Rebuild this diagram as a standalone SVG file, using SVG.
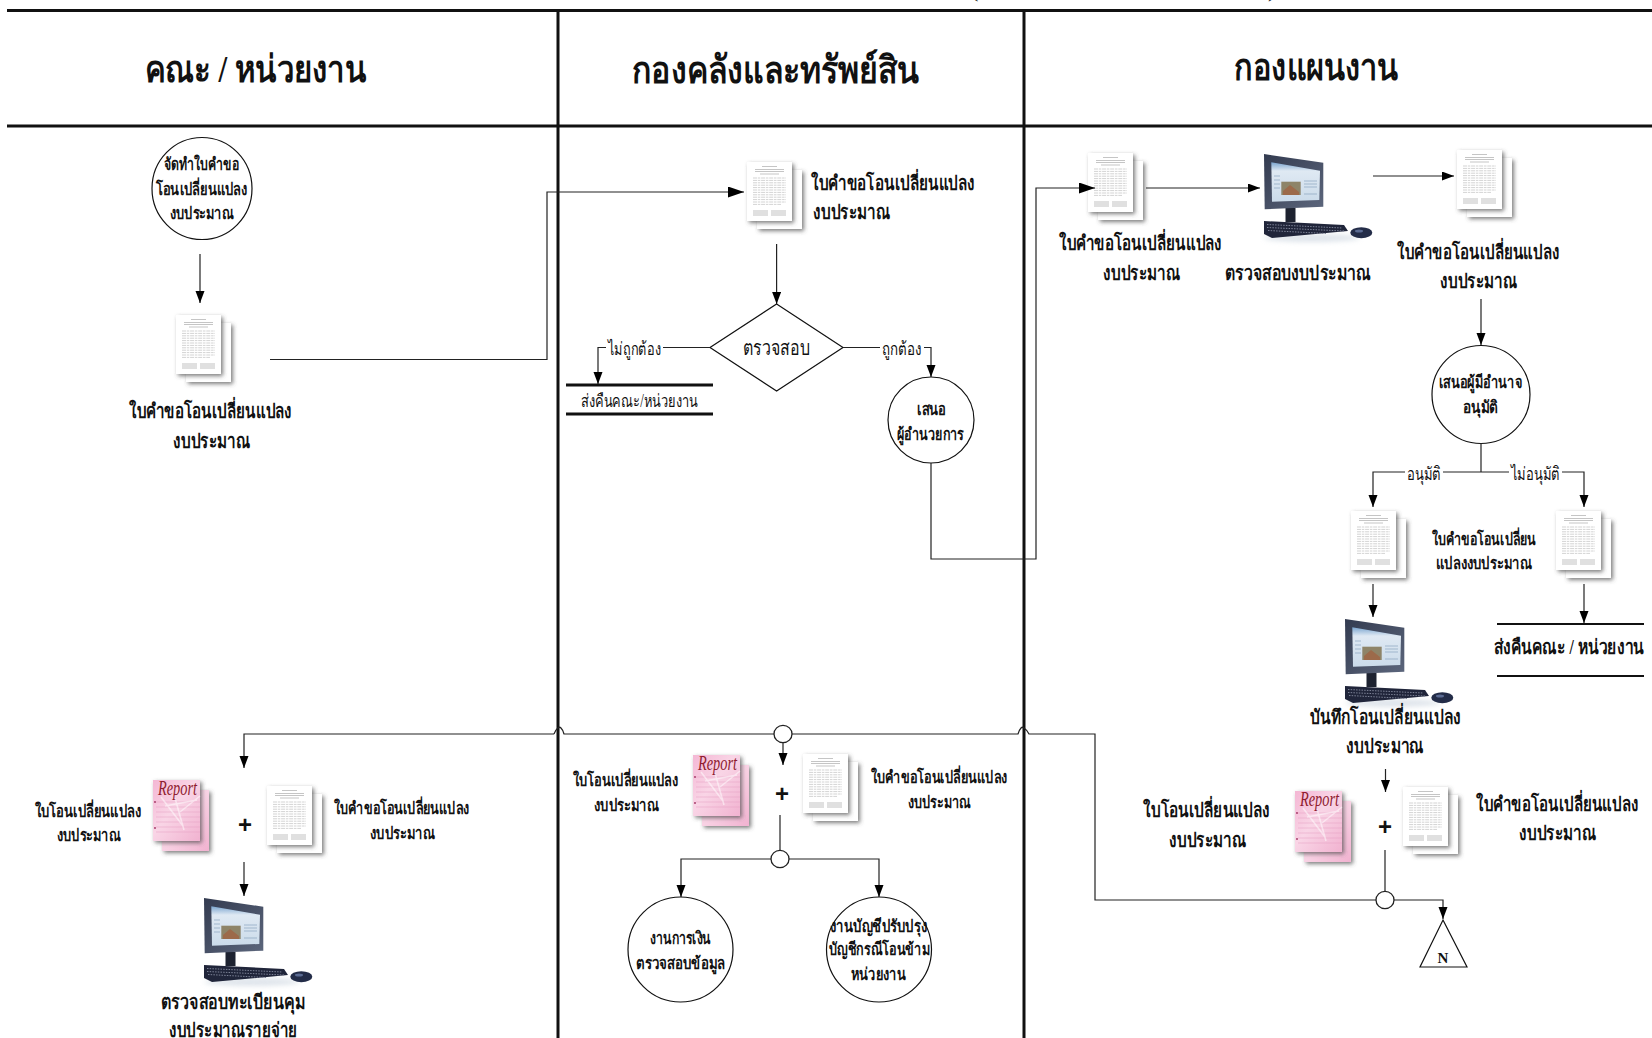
<svg xmlns="http://www.w3.org/2000/svg" xmlns:xlink="http://www.w3.org/1999/xlink" width="1652" height="1038" viewBox="0 0 1652 1038">
<style>
text{font-family:"Liberation Serif","Noto Sans","DejaVu Sans",serif;fill:#111;font-weight:700}
.t{font-size:38px}
.m{font-size:20px}
.s{font-size:17px}
.l{font-size:18px;font-weight:400}
.lane{stroke:#111;stroke-width:3;fill:none}
.bar{stroke:#111;stroke-width:3;fill:none}
.c{stroke:#222;stroke-width:1.2;fill:none}
.ca{marker-end:url(#big)}
.cs{marker-end:url(#small)}
.o{fill:#fff;stroke:#111;stroke-width:1.2}
.j{fill:#fff;stroke:#222;stroke-width:1.3}
.p{font-size:24px;font-family:"Liberation Sans",sans-serif}
.gap{fill:#fff;stroke:none}
</style>
<defs>
<marker id="big" markerUnits="userSpaceOnUse" markerWidth="18" markerHeight="14" refX="16" refY="5.500" orient="auto"><path d="M0 0L16 5.500L0 11Z" fill="#000"/></marker>
<marker id="small" markerUnits="userSpaceOnUse" markerWidth="14" markerHeight="10" refX="12" refY="4.500" orient="auto"><path d="M0 0L12 4.500L0 9Z" fill="#000"/></marker>
<filter id="sh" x="-25%" y="-20%" width="160%" height="150%"><feDropShadow dx="2" dy="2" stdDeviation="2" flood-color="#444" flood-opacity=".7"/></filter>
<filter id="soft2" x="-30%" y="-60%" width="160%" height="220%"><feGaussianBlur stdDeviation="2.5"/></filter>
<linearGradient id="pink" x1="0" y1="0" x2="1" y2="1"><stop offset="0" stop-color="#f4b7d4"/><stop offset=".45" stop-color="#f9d5e6"/><stop offset="1" stop-color="#f1b2d0"/></linearGradient>
<linearGradient id="scr" x1="0" y1="0" x2="0" y2="1"><stop offset="0" stop-color="#7ba5cf"/><stop offset=".22" stop-color="#dfe9f3"/><stop offset="1" stop-color="#cbdbea"/></linearGradient>
<linearGradient id="mon" x1="0" y1="0" x2="1" y2="1"><stop offset="0" stop-color="#333b50"/><stop offset="1" stop-color="#5c667c"/></linearGradient>
<g id="doc">
<rect x="10" y="8" width="45" height="59" fill="#fff" filter="url(#sh)"/>
<rect x="0" y="0" width="45" height="59" fill="#fff" filter="url(#sh)"/>
<g fill="none" stroke="#a6a6a6" stroke-width=".5">
<path d="M15 4.500H30M8 7.500H37M8 9.500H37M13 12H32" stroke="#8a8a8a"/>
<path d="M6 16H39M6 18.400H39M6 20.800H39M6 23.200H39M6 25.600H39M6 28H39M6 30.400H39M6 32.800H39M6 35.200H39M6 37.600H39M6 40H39M6 42.400H34" stroke-dasharray="4 .8 2.500 .8"/>
<path d="M6 49H21M24 49H39M6 51H21M24 51H39M6 53H21M24 53H39" stroke-width=".7"/>
</g>
</g>
<g id="report">
<rect x="9" y="10" width="47" height="61" fill="url(#pink)" filter="url(#sh)"/>
<rect x="0" y="0" width="47" height="61" fill="url(#pink)" filter="url(#sh)"/>
<path d="M3 22H47M3 27H47M3 32H47M3 37H47M3 42H47M3 47H47M3 52H47" stroke="#e79cc0" stroke-width=".5" fill="none"/>
<path d="M8 17L30 46M22 18L31 50M47 16L27 32M12 26L44 20" stroke="#fff" stroke-opacity=".5" stroke-width="1.6" fill="none"/>
<circle cx="2" cy="22" r=".9" fill="#a03060"/><circle cx="2" cy="48" r=".9" fill="#a03060"/>
<text x="5" y="15" font-size="20" textLength="39" lengthAdjust="spacingAndGlyphs" style="fill:#8f1c30;font-style:italic;font-weight:400">Report</text>
</g>
<g id="pc">
<ellipse cx="48" cy="84" rx="48" ry="4" fill="#c9d3de" opacity=".6" filter="url(#soft2)"/>
<rect x="21.500" y="54" width="10" height="14" fill="#1d2230"/>
<path d="M0 0L59.300 8.700V52.700L.7 55.300Z" fill="url(#mon)"/>
<path d="M7.300 8.300L56 16.700L55.300 46L8 47.700Z" fill="url(#scr)"/>
<rect x="17.300" y="27.700" width="19.400" height="13.300" fill="#8e8468"/>
<path d="M19 37L26 31L35 38V41H19Z" fill="#9c6a4a"/>
<path d="M40 27H53M40 30H53M40 33H53M40 40H53M10 22H16M10 26H16M10 30H16M10 34H16" stroke="#8aa3bf" stroke-width=".7"/>
<path d="M0 67L80 71L84 77L8 84L0 80Z" fill="#20253a"/>
<path d="M3 70.500L78 74M3 73.500L80 77M4 76.500L62 79.500" stroke="#7c8296" stroke-width="1" stroke-dasharray="1.500 1.200"/>
<ellipse cx="97.300" cy="78.700" rx="11" ry="5.500" fill="#232c48"/>
<ellipse cx="95" cy="77" rx="4" ry="1.500" fill="#5a6a92"/>
</g>
</defs>
<rect width="1652" height="1038" fill="#fff"/>

<g id="lanes">
<path class="lane" d="M7 10.500H1652M7 126H1652M558 10V1038M1024 10V1038"/>
<text x="971" y="-3" font-size="22" style="font-weight:400">(</text>
<text x="1268" y="-3" font-size="22" style="font-weight:400">)</text>
</g>

<g id="headers">
<text class="t" x="145" y="82" textLength="221" lengthAdjust="spacingAndGlyphs">คณะ / หน่วยงาน</text>
<text class="t" x="632" y="83" textLength="287" lengthAdjust="spacingAndGlyphs">กองคลังและทรัพย์สิน</text>
<text class="t" x="1234" y="80" textLength="164" lengthAdjust="spacingAndGlyphs">กองแผนงาน</text>
</g>

<g id="n-start"><ellipse class="o" cx="202" cy="188.500" rx="50" ry="51"/>
<text class="s" x="164" y="170" textLength="75" lengthAdjust="spacingAndGlyphs">จัดทำใบคำขอ</text>
<text class="s" x="156" y="195" textLength="91" lengthAdjust="spacingAndGlyphs">โอนเปลี่ยนแปลง</text>
<text class="s" x="170" y="219" textLength="64" lengthAdjust="spacingAndGlyphs">งบประมาณ</text></g>
<g id="n-doc-a"><use href="#doc" x="176" y="315"/>
<text class="m" x="129" y="418" textLength="163" lengthAdjust="spacingAndGlyphs">ใบคำขอโอนเปลี่ยนแปลง</text>
<text class="m" x="173" y="448" textLength="77" lengthAdjust="spacingAndGlyphs">งบประมาณ</text></g>
<g id="n-doc-b"><use href="#doc" x="747" y="162"/>
<text class="m" x="811" y="190" textLength="164" lengthAdjust="spacingAndGlyphs">ใบคำขอโอนเปลี่ยนแปลง</text>
<text class="m" x="813" y="219" textLength="77" lengthAdjust="spacingAndGlyphs">งบประมาณ</text></g>
<g id="n-check"><path class="o" d="M776.600 304L843 347.500L776.600 391L710 347.500Z"/>
<text class="m" x="743" y="355" textLength="67" lengthAdjust="spacingAndGlyphs" style="font-weight:400">ตรวจสอบ</text></g>
<g id="n-return1"><path class="bar" d="M566 385H713M566 414H713"/>
<text class="l" x="581" y="407" textLength="117" lengthAdjust="spacingAndGlyphs">ส่งคืนคณะ/หน่วยงาน</text></g>
<g id="n-director"><circle class="o" cx="931" cy="420" r="43"/>
<text class="s" x="917" y="415" textLength="29" lengthAdjust="spacingAndGlyphs">เสนอ</text>
<text class="s" x="897" y="440" textLength="67" lengthAdjust="spacingAndGlyphs">ผู้อำนวยการ</text></g>
<g id="n-doc-c"><use href="#doc" x="1088" y="153"/>
<text class="m" x="1059" y="250" textLength="163" lengthAdjust="spacingAndGlyphs">ใบคำขอโอนเปลี่ยนแปลง</text>
<text class="m" x="1103" y="280" textLength="77" lengthAdjust="spacingAndGlyphs">งบประมาณ</text></g>
<g id="n-pc-1"><use href="#pc" x="1264" y="154"/>
<text class="m" x="1225" y="280" textLength="146" lengthAdjust="spacingAndGlyphs">ตรวจสอบงบประมาณ</text></g>
<g id="n-doc-d"><use href="#doc" x="1457" y="150"/>
<text class="m" x="1397" y="259" textLength="162" lengthAdjust="spacingAndGlyphs">ใบคำขอโอนเปลี่ยนแปลง</text>
<text class="m" x="1440" y="288" textLength="77" lengthAdjust="spacingAndGlyphs">งบประมาณ</text></g>
<g id="n-approve"><ellipse class="o" cx="1481" cy="394.500" rx="49" ry="49"/>
<text class="s" x="1439" y="388" textLength="83" lengthAdjust="spacingAndGlyphs">เสนอผู้มีอำนาจ</text>
<text class="s" x="1463" y="413" textLength="35" lengthAdjust="spacingAndGlyphs">อนุมัติ</text></g>
<g id="n-doc-e"><use href="#doc" x="1351" y="511"/></g>
<g id="n-doc-f"><use href="#doc" x="1556" y="511"/>
<text class="s" x="1432" y="545" textLength="104" lengthAdjust="spacingAndGlyphs">ใบคำขอโอนเปลี่ยน</text>
<text class="s" x="1436" y="569" textLength="96" lengthAdjust="spacingAndGlyphs">แปลงงบประมาณ</text></g>
<g id="n-return2"><path class="bar" style="stroke-width:2" d="M1497 624H1644M1497 676H1644"/>
<text class="m" x="1494" y="654" textLength="150" lengthAdjust="spacingAndGlyphs">ส่งคืนคณะ / หน่วยงาน</text></g>
<g id="n-pc-2"><use href="#pc" x="1345" y="619"/>
<text class="m" x="1310" y="724" textLength="151" lengthAdjust="spacingAndGlyphs">บันทึกโอนเปลี่ยนแปลง</text>
<text class="m" x="1346" y="753" textLength="78" lengthAdjust="spacingAndGlyphs">งบประมาณ</text></g>

<g id="n-set-right"><use href="#report" x="1295" y="791"/><use href="#doc" x="1403" y="787"/>
<text class="p" x="1385" y="835" text-anchor="middle">+</text>
<text class="m" x="1143" y="817" textLength="127" lengthAdjust="spacingAndGlyphs">ใบโอนเปลี่ยนแปลง</text>
<text class="m" x="1169" y="847" textLength="77" lengthAdjust="spacingAndGlyphs">งบประมาณ</text>
<text class="m" x="1476" y="811" textLength="162" lengthAdjust="spacingAndGlyphs">ใบคำขอโอนเปลี่ยนแปลง</text>
<text class="m" x="1519" y="840" textLength="77" lengthAdjust="spacingAndGlyphs">งบประมาณ</text></g>
<g id="n-offpage"><path class="o" d="M1443 920L1467 967H1420Z"/>
<text x="1443" y="963" font-size="15" text-anchor="middle">N</text></g>

<g id="n-set-mid"><use href="#report" x="693" y="755"/><use href="#doc" x="803" y="754"/>
<text class="p" x="782" y="802" text-anchor="middle">+</text>
<text class="s" x="573" y="786" textLength="105" lengthAdjust="spacingAndGlyphs">ใบโอนเปลี่ยนแปลง</text>
<text class="s" x="594" y="811" textLength="65" lengthAdjust="spacingAndGlyphs">งบประมาณ</text>
<text class="s" x="871" y="783" textLength="136" lengthAdjust="spacingAndGlyphs">ใบคำขอโอนเปลี่ยนแปลง</text>
<text class="s" x="908" y="808" textLength="63" lengthAdjust="spacingAndGlyphs">งบประมาณ</text></g>
<g id="n-finance"><ellipse class="o" cx="680.500" cy="949.500" rx="52.500" ry="52.500"/>
<text class="s" x="650" y="944" textLength="61" lengthAdjust="spacingAndGlyphs">งานการเงิน</text>
<text class="s" x="636" y="969" textLength="89" lengthAdjust="spacingAndGlyphs">ตรวจสอบข้อมูล</text></g>
<g id="n-account"><ellipse class="o" cx="879" cy="949.500" rx="52.500" ry="52.500"/>
<text class="s" x="830" y="932" textLength="97" lengthAdjust="spacingAndGlyphs">งานบัญชีปรับปรุง</text>
<text class="s" x="829" y="955" textLength="101" lengthAdjust="spacingAndGlyphs">บัญชีกรณีโอนข้าม</text>
<text class="s" x="851" y="980" textLength="55" lengthAdjust="spacingAndGlyphs">หน่วยงาน</text></g>

<g id="n-set-left"><use href="#report" x="153" y="780"/><use href="#doc" x="267" y="786"/>
<text class="p" x="245" y="833" text-anchor="middle">+</text>
<text class="s" x="35" y="817" textLength="106" lengthAdjust="spacingAndGlyphs">ใบโอนเปลี่ยนแปลง</text>
<text class="s" x="57" y="841" textLength="64" lengthAdjust="spacingAndGlyphs">งบประมาณ</text>
<text class="s" x="334" y="814" textLength="135" lengthAdjust="spacingAndGlyphs">ใบคำขอโอนเปลี่ยนแปลง</text>
<text class="s" x="370" y="839" textLength="65" lengthAdjust="spacingAndGlyphs">งบประมาณ</text></g>
<g id="n-pc-3"><use href="#pc" x="204" y="898"/>
<text class="m" x="161" y="1009" textLength="144" lengthAdjust="spacingAndGlyphs">ตรวจสอบทะเบียนคุม</text>
<text class="m" x="169" y="1037" textLength="128" lengthAdjust="spacingAndGlyphs">งบประมาณรายจ่าย</text></g>

<g id="connectors">
<path class="c cs" d="M200 254V303"/>
<path class="c ca" d="M270 359.500H547V192H744"/>
<path class="c cs" d="M776.600 244V304"/>
<path class="c cs" d="M710 347.500H598V384"/>
<path class="c cs" d="M843 347.500H931V377"/>
<path class="c ca" d="M931 463V559H1036V188H1095"/>
<path class="c cs" d="M1146 188H1260"/>
<path class="c cs" d="M1373 176H1454"/>
<path class="c cs" d="M1481 299V345"/>
<path class="c" d="M1481 443V472"/>
<path class="c cs" d="M1481 472H1373V507"/>
<path class="c cs" d="M1481 472H1584V507"/>
<path class="c cs" d="M1373 584V617"/>
<path class="c cs" d="M1584 584V623"/>
<path class="c cs" d="M554 734H244V768"/>
<path class="c cs" d="M554 734Q558 725 561 728Q563 730 564 734H1018Q1021 725 1024 728Q1027 730 1029 734H1095V900H1443V919"/>
<path class="c cs" d="M244 862V896"/>
<path class="c cs" d="M783 743V765"/>
<path class="c" d="M780 815V851"/>
<path class="c cs" d="M780 859H681V897"/>
<path class="c cs" d="M780 859H879V897"/>
<path class="c cs" d="M1385.500 769V792"/>
<path class="c" d="M1385 850V891"/>
<rect class="gap" x="606" y="338" width="57" height="18"/>
<rect class="gap" x="880" y="338" width="44" height="18"/>
<rect class="gap" x="1405" y="462" width="38" height="18"/>
<rect class="gap" x="1509" y="462" width="53" height="18"/>
<text class="l" x="608" y="355" textLength="53" lengthAdjust="spacingAndGlyphs">ไม่ถูกต้อง</text>
<text class="l" x="882" y="355" textLength="40" lengthAdjust="spacingAndGlyphs">ถูกต้อง</text>
<text class="l" x="1407" y="480" textLength="34" lengthAdjust="spacingAndGlyphs">อนุมัติ</text>
<text class="l" x="1511" y="480" textLength="49" lengthAdjust="spacingAndGlyphs">ไม่อนุมัติ</text>
</g>

<g id="n-junction-mid"><ellipse class="j" cx="783" cy="734" rx="9" ry="8.700"/></g>
<g id="n-junction-mid2"><ellipse class="j" cx="780" cy="859" rx="9" ry="8.700"/></g>
<g id="n-junction-right"><ellipse class="j" cx="1385" cy="900" rx="9" ry="8.700"/></g>
</svg>
